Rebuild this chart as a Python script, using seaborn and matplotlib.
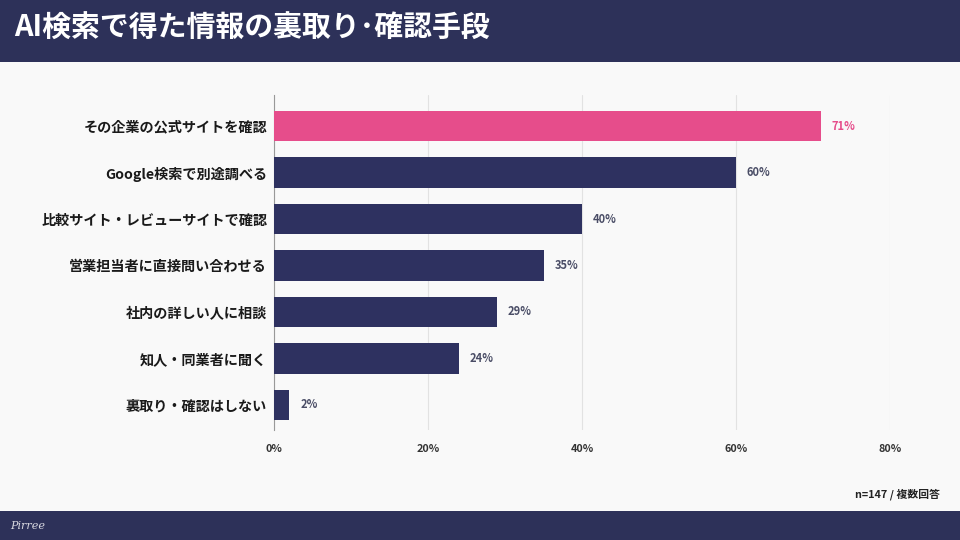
import matplotlib
matplotlib.use("Agg")
import pandas as pd
import matplotlib.pyplot as plt
import seaborn as sns
from matplotlib.patches import Rectangle

# data
categories = ["その企業の公式サイトを確認", "Google検索で別途調べる", "比較サイト・レビューサイトで確認",
              "営業担当者に直接問い合わせる", "社内の詳しい人に相談", "知人・同業者に聞く", "裏取り・確認はしない"]
values = [71, 60, 40, 35, 29, 24, 2]
highlight = [True, False, False, False, False, False, False]
xticks = [0, 20, 40, 60, 80]

navy = "#2e3160"
pink = "#e64d8b"
bg = "#f9f9f9"

sns.set_theme(style="white")
plt.rcParams['font.family'] = ['Noto Sans CJK JP', 'DejaVu Sans']

df = pd.DataFrame({"cat": categories, "val": values,
                   "grp": ["hi" if h else "lo" for h in highlight]})

fig = plt.figure(figsize=(9.6, 5.4), dpi=100, facecolor=bg)

# header and footer bands
fig.patches.append(Rectangle((0, 1 - 62 / 540), 1, 62 / 540, transform=fig.transFigure,
                             facecolor="#2d3159", edgecolor="none", zorder=0))
fig.patches.append(Rectangle((0, 0), 1, 29 / 540, transform=fig.transFigure,
                             facecolor="#2d3159", edgecolor="none", zorder=0))
fig.text(14 / 960, 1 - 28 / 540, "AI検索で得た情報の裏取り･確認手段", color="white",
         fontsize=20.8, fontweight="bold", va="center", ha="left")
fig.text(10 / 960, 14 / 540, "Pirree", color="#d8d8e0", fontsize=8, style="italic",
         family="DejaVu Serif", va="center", ha="left")
fig.text(940 / 960, 1 - 494 / 540, "n=147 / 複数回答", color="#222222", fontsize=7.8,
         fontweight="bold", va="center", ha="right")

ax = fig.add_axes([274 / 960, 1 - 430 / 540, (890 - 274) / 960, 335 / 540])
ax.set_facecolor(bg)
sns.barplot(data=df, x="val", y="cat", hue="grp", palette={"hi": pink, "lo": navy},
            dodge=False, width=0.65, saturation=1, linewidth=0, legend=False, ax=ax, zorder=3)

ax.set_xlim(0, 80)
ax.set_ylim(6.54, -0.67)
ax.set_xticks(xticks)
ax.set_xticklabels([f"{t}%" for t in xticks], fontsize=7.8, fontweight="bold", color="#333333")
ax.tick_params(axis="x", length=0, pad=10)
ax.tick_params(axis="y", length=0, pad=5)
for lbl in ax.get_yticklabels():
    lbl.set_fontsize(10.2)
    lbl.set_fontweight("bold")
    lbl.set_color("#1a1a1a")
ax.set_xlabel("")
ax.set_ylabel("")
ax.xaxis.grid(True, color="#e2e2e2", linewidth=0.8, zorder=0)
for s in ["top", "right", "bottom"]:
    ax.spines[s].set_visible(False)
ax.spines["left"].set_color("#999999")
ax.spines["left"].set_linewidth(0.8)

for i, (v, h) in enumerate(zip(values, highlight)):
    ax.text(v + 1.4, i, f"{v}%", va="center", ha="left", fontsize=8, fontweight="bold",
            color=pink if h else "#4a4d66")

fig.savefig("out.png", dpi=100, facecolor=bg)
